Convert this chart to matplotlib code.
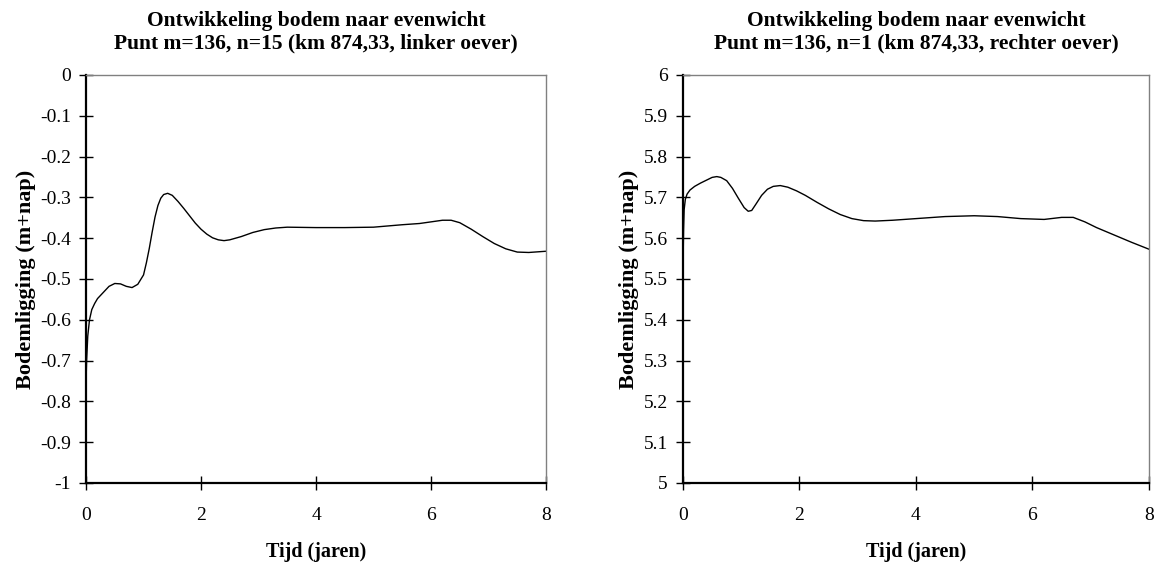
import numpy as np
import matplotlib
matplotlib.use("Agg")
import matplotlib.pyplot as plt

plt.rcParams['font.family'] = ['Liberation Serif', 'DejaVu Serif']

# bodemligging linker oever (m+nap) tegen tijd (jaren)
t_links = [0.0, 0.01, 0.03, 0.06, 0.1, 0.15, 0.2, 0.3, 0.4, 0.5, 0.6, 0.7, 0.8, 0.9,
           1.0, 1.05, 1.1, 1.15, 1.2, 1.25, 1.3, 1.35, 1.42, 1.5, 1.6, 1.7, 1.8, 1.9,
           2.0, 2.1, 2.2, 2.3, 2.4, 2.5, 2.7, 2.9, 3.1, 3.3, 3.5, 4.0, 4.5, 5.0, 5.5,
           5.8, 6.0, 6.2, 6.35, 6.5, 6.7, 6.9, 7.1, 7.3, 7.5, 7.7, 8.0]
z_links = [-0.75, -0.70, -0.64, -0.60, -0.575, -0.56, -0.548, -0.533, -0.518, -0.511,
           -0.512, -0.518, -0.521, -0.513, -0.49, -0.46, -0.425, -0.385, -0.348, -0.32,
           -0.302, -0.293, -0.290, -0.295, -0.310, -0.327, -0.345, -0.363, -0.378,
           -0.39, -0.399, -0.404, -0.406, -0.404, -0.396, -0.386, -0.379, -0.375,
           -0.373, -0.374, -0.374, -0.373, -0.367, -0.364, -0.36, -0.356, -0.356,
           -0.362, -0.378, -0.396, -0.413, -0.426, -0.434, -0.435, -0.432]

# bodemligging rechter oever
t_rechts = [0.0, 0.01, 0.02, 0.04, 0.07, 0.12, 0.2, 0.3, 0.4, 0.5, 0.58, 0.65, 0.75,
            0.85, 0.95, 1.05, 1.12, 1.18, 1.25, 1.35, 1.45, 1.55, 1.67, 1.8, 1.95, 2.1,
            2.3, 2.5, 2.7, 2.9, 3.1, 3.3, 3.6, 4.0, 4.5, 5.0, 5.4, 5.8, 6.2, 6.5, 6.7,
            6.9, 7.1, 7.4, 7.7, 8.0]
z_rechts = [5.53, 5.62, 5.67, 5.695, 5.708, 5.718, 5.727, 5.735, 5.742, 5.749, 5.751,
            5.749, 5.741, 5.722, 5.698, 5.675, 5.666, 5.668, 5.683, 5.705, 5.72, 5.727,
            5.729, 5.725, 5.716, 5.705, 5.688, 5.672, 5.658, 5.648, 5.643, 5.642,
            5.644, 5.648, 5.653, 5.655, 5.653, 5.648, 5.646, 5.651, 5.651, 5.64,
            5.626, 5.608, 5.59, 5.573]

titels = ["Ontwikkeling bodem naar evenwicht\nPunt m=136, n=15 (km 874,33, linker oever)",
          "Ontwikkeling bodem naar evenwicht\nPunt m=136, n=1 (km 874,33, rechter oever)"]

fig = plt.figure(figsize=(11.58, 5.63), dpi=100)
ax1 = fig.add_axes([0.0743, 0.1421, 0.3972, 0.7247])
ax2 = fig.add_axes([0.5898, 0.1421, 0.4024, 0.7247])

panels = [(ax1, t_links, z_links, (-1, 0)), (ax2, t_rechts, z_rechts, (5, 6))]
for (ax, t, z, ylim), titel in zip(panels, titels):
    ax.plot(t, z, color='black', lw=1.0)
    ax.set_xlim(0, 8)
    ax.set_ylim(*ylim)
    ax.set_xticks(np.arange(0, 9, 2))
    ax.set_yticks(np.round(np.linspace(ylim[0], ylim[1], 11), 1))
    ax.yaxis.set_major_formatter(plt.FuncFormatter(lambda v, p: ('%g' % round(v, 1))))
    ax.tick_params(direction='inout', length=10, width=1, labelsize=14, colors='black')
    ax.tick_params(axis='y', pad=6)
    ax.tick_params(axis='x', pad=12)
    for s in ['left', 'bottom']:
        ax.spines[s].set_linewidth(1.6)
        ax.spines[s].set_color('black')
    for s in ['top', 'right']:
        ax.spines[s].set_linewidth(1.0)
        ax.spines[s].set_color('#808080')
    ax.set_title(titel, fontsize=15.5, fontweight='bold', pad=19, linespacing=1.2)
    ax.set_xlabel('Tijd (jaren)', fontsize=14.5, fontweight='bold', labelpad=13)
    ax.set_ylabel('Bodemligging (m+nap)', fontsize=16, fontweight='bold', labelpad=3)

fig.savefig('out.png', dpi=100)
